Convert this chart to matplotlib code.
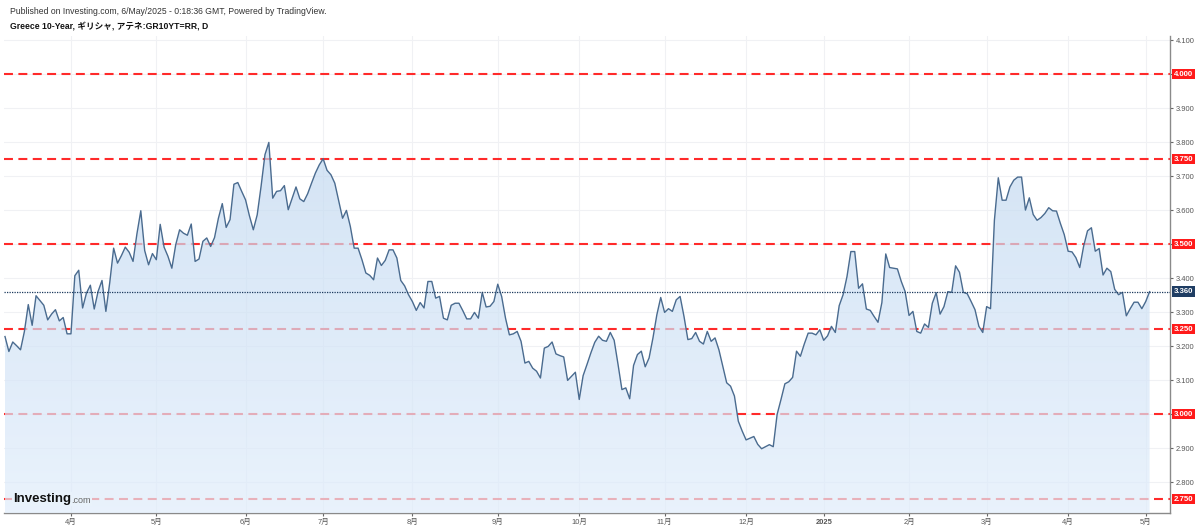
import matplotlib
matplotlib.use('Agg')
import matplotlib.pyplot as plt
import numpy as np
import pandas as pd
from matplotlib.patches import PathPatch
from matplotlib.transforms import blended_transform_factory

plt.rcParams['font.family'] = ['Liberation Sans', 'Noto Sans CJK JP', 'DejaVu Sans']

# ---------------- data ----------------
yields = [
    3.228, 3.184, 3.212, 3.201, 3.189, 3.243, 3.322, 3.261, 3.348, 3.334,
    3.320, 3.277, 3.294, 3.307, 3.274, 3.284, 3.236, 3.236, 3.407, 3.423,
    3.312, 3.356, 3.379, 3.309, 3.361, 3.393, 3.302, 3.387, 3.488, 3.444,
    3.466, 3.491, 3.476, 3.449, 3.530, 3.598, 3.481, 3.439, 3.472, 3.454,
    3.558, 3.491, 3.464, 3.429, 3.498, 3.542, 3.532, 3.526, 3.559, 3.449,
    3.456, 3.508, 3.518, 3.493, 3.519, 3.576, 3.619, 3.549, 3.572, 3.676,
    3.681, 3.655, 3.630, 3.583, 3.542, 3.586, 3.670, 3.763, 3.799, 3.635,
    3.655, 3.657, 3.672, 3.601,
    3.635, 3.668, 3.633, 3.625, 3.648, 3.679, 3.709, 3.733, 3.751, 3.717,
    3.704, 3.679, 3.628, 3.576, 3.599, 3.552, 3.488, 3.488, 3.454, 3.415,
    3.408, 3.395, 3.459, 3.437, 3.452, 3.483, 3.483, 3.459, 3.393, 3.377,
    3.351, 3.331, 3.305, 3.328, 3.312, 3.390, 3.390, 3.341, 3.346, 3.282,
    3.277, 3.320, 3.326, 3.326, 3.304, 3.280, 3.280, 3.299, 3.282, 3.358,
    3.315, 3.317, 3.331, 3.382, 3.346, 3.282, 3.233, 3.236, 3.243, 3.214,
    3.150, 3.155, 3.135, 3.126, 3.106, 3.194, 3.199, 3.212, 3.177, 3.172,
    3.168, 3.099, 3.111, 3.123,
    3.043, 3.113, 3.146, 3.180, 3.211, 3.229, 3.217, 3.214, 3.240, 3.217,
    3.146, 3.072, 3.077, 3.045, 3.143, 3.175, 3.185, 3.139, 3.165, 3.224,
    3.292, 3.343, 3.299, 3.310, 3.302, 3.336, 3.346, 3.287, 3.219, 3.222,
    3.240, 3.214, 3.206, 3.243, 3.214, 3.224, 3.189, 3.141, 3.092, 3.082,
    3.053, 2.979, 2.950, 2.924, 2.929, 2.934, 2.911, 2.898, 2.904, 2.910,
    2.904, 2.999, 3.043, 3.089, 3.095, 3.108, 3.185, 3.170, 3.206, 3.238,
    3.238, 3.233, 3.248, 3.217, 3.230, 3.258, 3.240, 3.319, 3.351, 3.404,
    3.478, 3.478, 3.370,
    3.383, 3.309, 3.305, 3.287, 3.270, 3.328, 3.471, 3.431, 3.429, 3.427,
    3.390, 3.360, 3.290, 3.302, 3.243, 3.238, 3.265, 3.255, 3.326, 3.357,
    3.294, 3.316, 3.360, 3.358, 3.436, 3.417, 3.358, 3.354, 3.331, 3.307,
    3.258, 3.240, 3.316, 3.310, 3.570, 3.695, 3.629, 3.629, 3.668, 3.688,
    3.697, 3.697, 3.600, 3.636, 3.587, 3.570, 3.578, 3.590, 3.607, 3.598,
    3.597, 3.561, 3.528, 3.479, 3.477, 3.460, 3.431, 3.494, 3.539, 3.548,
    3.479, 3.487, 3.409, 3.429, 3.419, 3.367, 3.351, 3.358, 3.289, 3.310,
    3.329, 3.329, 3.310, 3.331, 3.360,
]
holidays = ['2024-10-28', '2024-12-25', '2024-12-26', '2025-01-01',
            '2025-04-18', '2025-04-21', '2025-05-01']
end_date = '2025-05-05'
levels = [2.75, 3.00, 3.25, 3.50, 3.75, 4.00]
last_price = 3.360
y_ticks = [2.8, 2.9, 3.0, 3.1, 3.2, 3.3, 3.4, 3.5, 3.6, 3.7, 3.8, 3.9, 4.0, 4.1]
title1 = "Published on Investing.com, 6/May/2025 - 0:18:36 GMT, Powered by TradingView."
title2 = "Greece 10-Year, ギリシャ, アテネ:GR10YT=RR, D"

# ---------------- calendar ----------------
cal = pd.bdate_range('2024-01-01', end_date)
cal = cal[~cal.isin(pd.to_datetime(holidays))]
dates = cal[-len(yields):]
x = np.arange(len(dates))
ms_idx = [i for i in range(1, len(dates)) if dates[i].month != dates[i - 1].month]
ms_lab = [str(dates[i].year) if dates[i].month == 1 else f'{dates[i].month}月' for i in ms_idx]

# ---------------- figure ----------------
W, H = 1200, 530
fig = plt.figure(figsize=(W / 100, H / 100), dpi=100)
L, R, T, B = 4, 1170, 36, 513
ax = fig.add_axes([L / W, 1 - B / H, (R - L) / W, (B - T) / H])

px_per_bar = 3.88
x0px = 5
xmin = (L - x0px) / px_per_bar
xmax = (R - x0px) / px_per_bar
ybot, ytop = 2.709, 4.112

# gridlines
for yt in y_ticks:
    ax.axhline(yt, color='#f0f1f4', lw=0.8, zorder=0)
for xi in ms_idx:
    ax.axvline(xi, color='#f0f1f4', lw=0.8, zorder=0)

# dashed levels (under the fill)
for lv in levels:
    ax.axhline(lv, color='#ff2a2a', lw=1.5, linestyle=(0, (4.3, 2.6)), zorder=2)

# gradient fill
poly = ax.fill_between(x, yields, ybot, facecolor='none', edgecolor='none')
path = poly.get_paths()[0]
patch = PathPatch(path, facecolor='none', edgecolor='none', transform=ax.transData)
ax.add_patch(patch)
t = np.linspace(0, 1, 256)[:, None]
top_c = np.array([0.760, 0.850, 0.945])
bot_c = np.array([0.880, 0.930, 0.985])
grad = np.zeros((256, 1, 4))
grad[:, 0, :3] = top_c * (1 - t) + bot_c * t
grad[:, 0, 3] = 0.70
im = ax.imshow(grad, extent=[x[0], x[-1], ybot, max(yields)], aspect='auto',
               origin='upper', zorder=3, interpolation='bilinear')
im.set_clip_path(patch)

# line
ax.plot(x, yields, color='#4a6b8f', lw=1.0, zorder=5)

# last price dotted line
ax.axhline(last_price, color='#1c3a5e', lw=0.9, linestyle=(0, (1, 1)), zorder=6)

ax.set_xlim(xmin, xmax)
ax.set_ylim(ybot, ytop)

# axes styling
for s in ['left', 'top']:
    ax.spines[s].set_visible(False)
for s in ['right', 'bottom']:
    ax.spines[s].set_color('#8a8a8a')
    ax.spines[s].set_linewidth(1.0)

ax.yaxis.tick_right()
ax.set_yticks(y_ticks)
ax.set_yticklabels(['' if abs(v - 3.0) < 1e-9 or abs(v - 4.0) < 1e-9 else f'{v:.3f}' for v in y_ticks])
ax.tick_params(axis='y', labelsize=5.4, labelcolor='#555555', color='#666666',
               length=2.5, width=0.8, pad=1.5, direction='out')
ax.set_xticks(ms_idx)
ax.set_xticklabels(ms_lab)
ax.tick_params(axis='x', labelsize=5.4, labelcolor='#555555', color='#666666',
               length=2.5, width=0.8, pad=2, direction='out')
for lbl in ax.get_xticklabels():
    if lbl.get_text().isdigit():
        lbl.set_fontweight('bold')

# right-side boxes
tr = blended_transform_factory(ax.transAxes, ax.transData)
for lv in levels:
    ax.text(1.0035, lv, f'{lv:.3f}', transform=tr, ha='left', va='center',
            fontsize=5.6, fontweight='bold', color='white', zorder=10,
            bbox=dict(boxstyle='square,pad=0.22', fc='#ff1a1a', ec='none'),
            clip_on=False)
ax.text(1.0035, last_price, f'{last_price:.3f}', transform=tr, ha='left', va='center',
        fontsize=5.6, fontweight='bold', color='white', zorder=10,
        bbox=dict(boxstyle='square,pad=0.22', fc='#1f3d63', ec='none'),
        clip_on=False)

# titles
fig.text(10 / W, 1 - 11 / H, title1, fontsize=6.2, color='#333333', va='center', ha='left')
fig.text(10 / W, 1 - 26 / H, title2, fontsize=6.2, fontweight='bold', color='#111111',
         va='center', ha='left')

# logo
fig.text(13 / W, 1 - 499 / H, 'Investing', fontsize=9.5, fontweight='bold', color='#111111',
         va='center', ha='left',
         bbox=dict(boxstyle='square,pad=0.1', fc='#e9f2fb', ec='none'))
fig.text(71.5 / W, 1 - 500.5 / H, '.com', fontsize=6.5, color='#666666', va='center', ha='left',
         bbox=dict(boxstyle='square,pad=0.1', fc='#e9f2fb', ec='none'))

fig.savefig('out.png', dpi=100, facecolor='white')
